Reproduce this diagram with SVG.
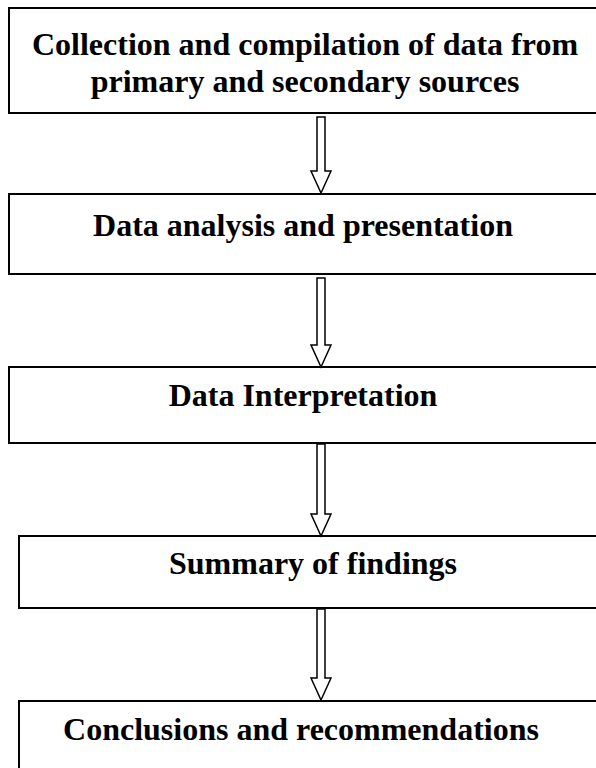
<svg xmlns="http://www.w3.org/2000/svg" width="596" height="768" viewBox="0 0 596 768">
  <style>
    .box { fill: #ffffff; stroke: #000000; stroke-width: 2; }
    .label { font-family: "Liberation Serif", "Times New Roman", serif; font-weight: bold; font-size: 32px; fill: #000000; text-anchor: middle; }
    .arrow { fill: #ffffff; stroke: #000000; stroke-width: 1.5; stroke-linejoin: miter; }
  </style>
  <rect x="0" y="0" width="596" height="768" fill="#ffffff"/>

  <g id="node-collection">
    <rect class="box" x="9" y="8" width="590" height="105"/>
    <text class="label" x="305" y="55">Collection and compilation of data from</text>
    <text class="label" x="305" y="92">primary and secondary sources</text>
  </g>

  <g id="node-analysis">
    <rect class="box" x="9" y="194" width="590" height="80"/>
    <text class="label" x="303" y="236">Data analysis and presentation</text>
  </g>

  <g id="node-interpretation">
    <rect class="box" x="9" y="367" width="590" height="76"/>
    <text class="label" x="303" y="406">Data Interpretation</text>
  </g>

  <g id="node-summary">
    <rect class="box" x="19" y="536" width="580" height="72"/>
    <text class="label" x="313" y="574">Summary of findings</text>
  </g>

  <g id="node-conclusions">
    <rect class="box" x="19" y="701" width="580" height="80"/>
    <text class="label" x="301" y="740">Conclusions and recommendations</text>
  </g>

  <g id="connectors">
    <polygon class="arrow" points="317,117 325,117 325,171 331,171 321,193 311,171 317,171"/>
    <polygon class="arrow" points="317,278 325,278 325,345 331,345 321,367 311,345 317,345"/>
    <polygon class="arrow" points="317,444 325,444 325,514 331,514 321,536 311,514 317,514"/>
    <polygon class="arrow" points="317,609 325,609 325,678 331,678 321,700 311,678 317,678"/>
  </g>
</svg>
